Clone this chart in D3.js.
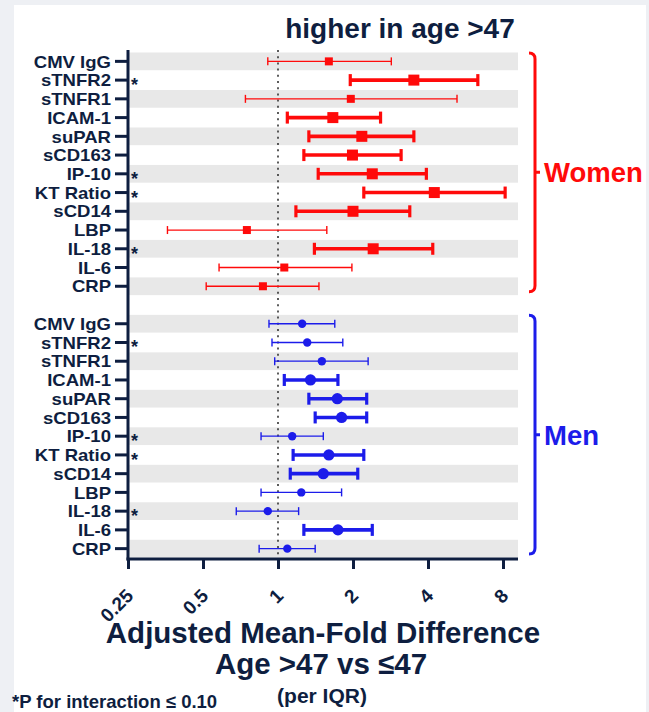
<!DOCTYPE html>
<html>
<head>
<meta charset="utf-8">
<script src="https://cdn.jsdelivr.net/npm/d3@7"></script>
<style>
  html, body { margin: 0; padding: 0; background: #eef0f4; }
  svg { display: block; }
  text { font-family: "Liberation Sans", Arial, Helvetica, sans-serif; font-weight: bold; }
</style>
</head>
<body>
<svg id="chart" width="649" height="712"></svg>
<script>
// Biomarkers, listed top to bottom within each panel
const markers = ["CMV IgG", "sTNFR2", "sTNFR1", "ICAM-1", "suPAR", "sCD163", "IP-10",
                 "KT Ratio", "sCD14", "LBP", "IL-18", "IL-6", "CRP"];
// Markers flagged with * (P for interaction <= 0.10)
const interactionFlag = ["sTNFR2", "IP-10", "KT Ratio", "IL-18"];

// Women: adjusted mean-fold difference with 95% CI
const womenEst = [1.60, 3.51, 1.96, 1.66, 2.17, 1.99, 2.39, 4.24, 2.00, 0.75, 2.41, 1.06, 0.87];
const womenLo  = [0.91, 1.95, 0.74, 1.09, 1.33, 1.27, 1.45, 2.21, 1.18, 0.36, 1.40, 0.58, 0.515];
const womenHi  = [2.85, 6.34, 5.23, 2.58, 3.51, 3.12, 3.94, 8.16, 3.38, 1.57, 4.18, 1.98, 1.46];

// Men: adjusted mean-fold difference with 95% CI
const menEst = [1.25, 1.31, 1.50, 1.35, 1.73, 1.80, 1.14, 1.60, 1.52, 1.24, 0.91, 1.74, 1.09];
const menLo  = [0.92, 0.946, 0.97, 1.06, 1.33, 1.41, 0.855, 1.15, 1.12, 0.855, 0.68, 1.27, 0.84];
const menHi  = [1.69, 1.82, 2.30, 1.74, 2.27, 2.27, 1.52, 2.21, 2.09, 1.80, 1.21, 2.39, 1.41];

// X axis tick values and their labels
const xTicks = [0.25, 0.5, 1, 2, 4, 8];
const xTickLabels = ["0.25", "0.5", "1", "2", "4", "8"];

const NAVY = "#0e1e40";
const RED = "#ff0a0a";
const BLUE = "#1c1cea";

const svg = d3.select("#chart");

// white card
svg.append("rect").attr("x", 14).attr("y", 5).attr("width", 632).attr("height", 720)
  .attr("fill", "#ffffff");

// row slots: 13 women, one spacer, 13 men
const slots = markers.map(m => "W|" + m).concat(["gap"], markers.map(m => "M|" + m));
const y = d3.scaleBand().domain(slots).range([52, 558]).paddingInner(0).paddingOuter(0);
const rowC = k => y(k) + y.bandwidth() / 2;

const x = d3.scaleLog().base(2).domain([0.25, Math.pow(2, 3.2)]).range([128, 518]);

// alternating grey bands
const bandRows = [];
markers.forEach((m, i) => { if (i % 2 === 0) { bandRows.push("W|" + m); bandRows.push("M|" + m); } });
svg.append("g").selectAll("rect").data(bandRows).join("rect")
  .attr("x", x.range()[0]).attr("width", x.range()[1] - x.range()[0])
  .attr("y", d => y(d) + 0.5).attr("height", y.bandwidth() - 1)
  .attr("fill", "#e8e8e8");

// reference line at 1-fold
svg.append("line")
  .attr("x1", x(1)).attr("x2", x(1)).attr("y1", 50).attr("y2", 556)
  .attr("stroke", "#333").attr("stroke-width", 1.6).attr("stroke-dasharray", "2,4.2");

// build rows for each panel
function rows(prefix, est, lo, hi) {
  return markers.map((m, i) => ({
    key: prefix + "|" + m, est: est[i], lo: lo[i], hi: hi[i],
    sig: lo[i] > 1 || hi[i] < 1
  }));
}
const women = rows("W", womenEst, womenLo, womenHi);
const men = rows("M", menEst, menLo, menHi);

function drawCI(data, color, shape) {
  const g = svg.append("g");
  const r = g.selectAll("g").data(data).join("g");
  r.append("line")
    .attr("x1", d => x(d.lo)).attr("x2", d => x(d.hi))
    .attr("y1", d => rowC(d.key)).attr("y2", d => rowC(d.key))
    .attr("stroke", color).attr("stroke-width", d => d.sig ? 3.6 : 1.3);
  ["lo", "hi"].forEach(end => {
    r.append("line")
      .attr("x1", d => x(d[end])).attr("x2", d => x(d[end]))
      .attr("y1", d => rowC(d.key) - (d.sig ? 6 : 4))
      .attr("y2", d => rowC(d.key) + (d.sig ? 6 : 4))
      .attr("stroke", color).attr("stroke-width", d => d.sig ? 3.2 : 1.4);
  });
  if (shape === "square") {
    r.append("rect")
      .attr("x", d => x(d.est) - (d.sig ? 5.5 : 4))
      .attr("y", d => rowC(d.key) - (d.sig ? 5.5 : 4))
      .attr("width", d => d.sig ? 11 : 8).attr("height", d => d.sig ? 11 : 8)
      .attr("fill", color);
  } else {
    r.append("circle")
      .attr("cx", d => x(d.est)).attr("cy", d => rowC(d.key))
      .attr("r", d => d.sig ? 5.6 : 4.2)
      .attr("fill", color);
  }
}
drawCI(women, RED, "square");
drawCI(men, BLUE, "circle");

// y axis with marker labels
const yAxisG = svg.append("g");
yAxisG.append("line").attr("x1", 128).attr("x2", 128).attr("y1", 50).attr("y2", 560.5)
  .attr("stroke", NAVY).attr("stroke-width", 3);
const labelRows = slots.filter(s => s !== "gap");
yAxisG.selectAll("line.tick").data(labelRows).join("line").attr("class", "tick")
  .attr("x1", 115).attr("x2", 128)
  .attr("y1", d => rowC(d)).attr("y2", d => rowC(d))
  .attr("stroke", NAVY).attr("stroke-width", 3);
// marker names: compact line height, glyphs widened slightly
yAxisG.selectAll("text.lab").data(labelRows).join("text").attr("class", "lab")
  .attr("x", 111).attr("y", d => rowC(d) + 6.2)
  .attr("text-anchor", "end").attr("font-size", 16.4).attr("fill", NAVY)
  .text(d => d.split("|")[1])
  .each(function () {
    const w = this.getComputedTextLength();
    d3.select(this).attr("textLength", w * 1.13).attr("lengthAdjust", "spacingAndGlyphs");
  });
yAxisG.selectAll("text.star").data(labelRows.filter(d => interactionFlag.includes(d.split("|")[1])))
  .join("text").attr("class", "star")
  .attr("x", 131).attr("y", d => rowC(d) + 11)
  .attr("font-size", 18).attr("fill", NAVY).text("*");

// x axis
const xAxis = d3.axisBottom(x).tickValues(xTicks)
  .tickFormat((d, i) => xTickLabels[i]).tickSize(10).tickSizeOuter(0);
const xg = svg.append("g").attr("transform", "translate(0,559)").call(xAxis);
xg.select(".domain").attr("stroke", NAVY).attr("stroke-width", 3)
  .attr("d", `M${x.range()[0] - 1.5},0H${x.range()[1]}`);
xg.selectAll(".tick line").attr("stroke", NAVY).attr("stroke-width", 3);
xg.selectAll(".tick text")
  .attr("fill", NAVY).attr("font-size", 19).attr("font-weight", "bold")
  .attr("font-family", "Liberation Sans, Arial, sans-serif")
  .attr("text-anchor", "end").attr("dy", null).attr("y", 0)
  .attr("transform", "translate(6,38) rotate(-45)");

// group brackets
function bracket(firstKey, lastKey, color, label) {
  const top = y(firstKey) + 1, bot = y(lastKey) + y.bandwidth() - 4;
  const bx = 535, mid = (top + bot) / 2;
  svg.append("path")
    .attr("d", `M${bx - 6},${top} Q${bx},${top} ${bx},${top + 6} V${bot - 6} Q${bx},${bot} ${bx - 6},${bot}
               M${bx},${mid} H${bx + 5}`)
    .attr("fill", "none").attr("stroke", color).attr("stroke-width", 3);
  svg.append("text").attr("x", 544).attr("y", mid + 10)
    .attr("font-size", 27.5).attr("fill", color).text(label);
}
bracket("W|CMV IgG", "W|CRP", RED, "Women");
bracket("M|CMV IgG", "M|CRP", BLUE, "Men");

// titles and notes
svg.append("text").attr("x", 400).attr("y", 38).attr("text-anchor", "middle")
  .attr("font-size", 28).attr("fill", NAVY).text("higher in age >47");
svg.append("text").attr("x", 323).attr("y", 643).attr("text-anchor", "middle")
  .attr("font-size", 29.5).attr("fill", NAVY).text("Adjusted Mean-Fold Difference");
svg.append("text").attr("x", 321).attr("y", 674).attr("text-anchor", "middle")
  .attr("font-size", 29.5).attr("fill", NAVY).text("Age >47 vs ≤47");
svg.append("text").attr("x", 322).attr("y", 703).attr("text-anchor", "middle")
  .attr("font-size", 21).attr("fill", NAVY).text("(per IQR)");
svg.append("text").attr("x", 12).attr("y", 708).attr("text-anchor", "start")
  .attr("font-size", 18.5).attr("fill", NAVY).text("*P for interaction ≤ 0.10");
</script>
</body>
</html>
